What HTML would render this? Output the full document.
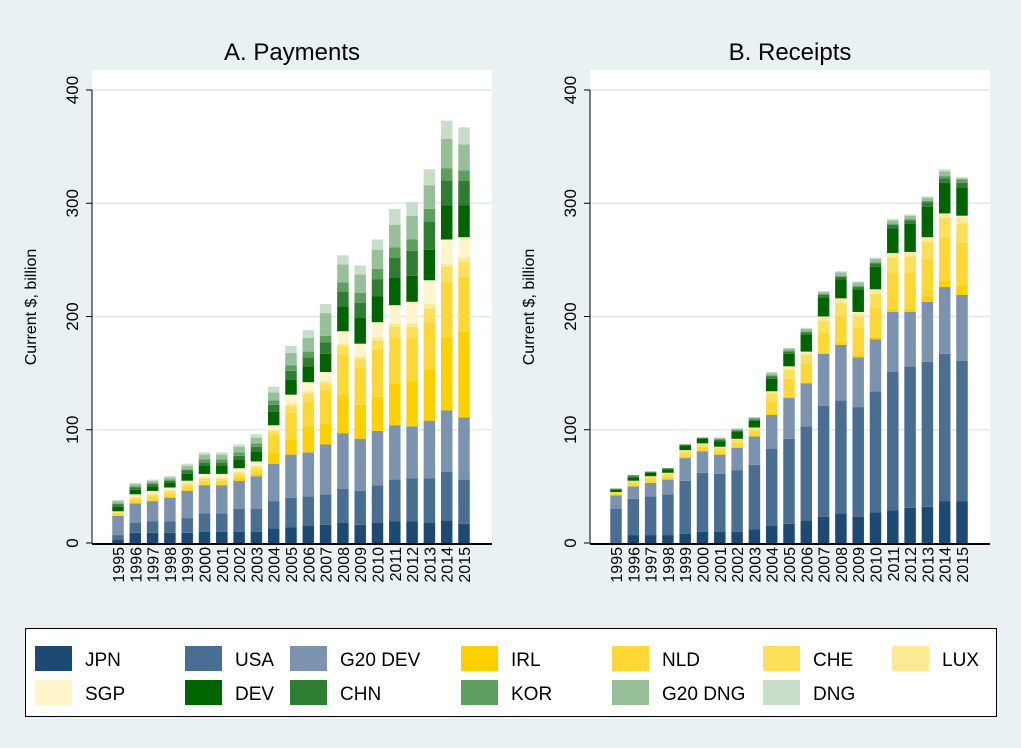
<!DOCTYPE html>
<html><head><meta charset="utf-8"><style>
body{margin:0;background:#eaf1f3;font-family:"Liberation Sans",sans-serif;}
</style></head><body>
<svg id="c" width="1021" height="743" xmlns="http://www.w3.org/2000/svg" font-family="Liberation Sans, sans-serif"></svg>
<script>
const years=["1995","1996","1997","1998","1999","2000","2001","2002","2003","2004","2005","2006","2007","2008","2009","2010","2011","2012","2013","2014","2015"];
const seriesNames=["JPN","USA","G20 DEV","IRL","NLD","CHE","LUX","SGP","DEV","CHN","KOR","G20 DNG","DNG"];
const colors=["#1d4a73","#4a6e92","#7b93ae","#fdd000","#fdd835","#fde05a","#fee996","#fff5cc","#006400","#2e7d32","#5e9e5e","#98c098","#c9dec9"];
const payJPN=[3,9,9,9,9,10,10,10,10,13,14,15,16,18,16,18,19,19,18,20,17];
const payUSA=[4,9,10,10,13,16,16,20,20,24,26,26,27,30,30,33,37,38,39,43,39];
const payG20DEV=[17,17,18,21,24,25,25,25,29,33,38,39,44,49,46,48,48,46,51,54,55];
const payIRL=[0,0,0,1,1,1,1,2,2,10,13,23,18,34,30,30,37,40,45,64,76];
const payNLD=[2,3,4,3,3,3,3,3,3,16,24,23,30,35,33,42,40,38,42,49,48];
const payCHE=[1,2,2,2,2,2,2,2,3,3,6,6,6,8,8,8,10,10,12,14,13];
const payLUX=[1,1,1,1,1,1,1,1,1,1,2,2,2,2,2,3,3,3,4,3,4];
const paySGP=[0,2,2,2,2,3,3,3,4,4,8,8,8,11,11,13,16,19,21,21,18];
const payDEV=[4,4,4,4,6,7,7,8,9,12,13,14,16,22,23,23,24,23,27,30,28];
const payCHN=[2,2,2,2,3,3,3,3,4,6,8,8,10,13,13,15,18,22,25,22,22];
const payKOR=[1,1,1,1,1,3,3,3,3,4,5,5,6,8,9,9,9,10,11,11,9];
const payG20DNG=[2,2,2,2,3,4,4,5,5,7,11,12,20,16,16,17,20,21,21,26,23];
const payDNG=[1,1,1,1,2,2,2,2,3,5,6,7,8,8,8,9,14,12,14,16,15];
const recJPN=[0,7,7,7,8,10,10,10,12,15,17,20,23,26,23,27,29,31,32,37,37];
const recUSA=[30,32,34,36,47,52,51,54,57,68,75,83,98,100,97,107,122,125,128,130,124];
const recG20DEV=[12,11,12,13,20,19,17,20,25,30,36,38,46,49,44,46,53,48,53,59,58];
const recIRL=[0,0,0,0,1,1,1,1,1,1,1,1,1,2,2,2,3,3,5,6,8];
const recNLD=[2,3,4,3,3,3,3,4,4,12,16,16,18,23,24,26,32,32,33,38,38];
const recCHE=[1,2,2,2,2,2,2,2,2,6,8,8,10,12,10,12,13,14,15,17,17];
const recLUX=[0,0,0,1,1,1,1,1,1,2,2,2,3,3,3,3,3,3,3,3,6];
const recSGP=[0,0,0,0,0,0,0,0,0,0,1,1,1,1,1,1,1,1,1,1,1];
const recDEV=[2,3,3,3,4,4,5,6,6,11,11,15,17,17,20,20,22,25,27,27,25];
const recCHN=[1,1,1,1,1,1,1,1,1,2,2,2,2,2,2,3,3,3,4,4,4];
const recKOR=[0,1,0,0,0,0,1,1,1,1,1,1,1,1,1,1,1,1,1,2,3];
const recG20DNG=[0,0,0,0,0,0,1,1,1,2,2,2,2,3,3,3,3,3,3,4,1];
const recDNG=[0,0,0,0,0,0,0,0,0,1,0,1,0,1,1,1,1,1,1,2,1];
const yTicks=[0,100,200,300,400];

const pay=[payJPN,payUSA,payG20DEV,payIRL,payNLD,payCHE,payLUX,paySGP,payDEV,payCHN,payKOR,payG20DNG,payDNG];
const rec=[recJPN,recUSA,recG20DEV,recIRL,recNLD,recCHE,recLUX,recSGP,recDEV,recCHN,recKOR,recG20DNG,recDNG];
const NS="http://www.w3.org/2000/svg";
const svg=document.getElementById('c');
function mk(tag,attrs,parent){const e=document.createElementNS(NS,tag);for(const k in attrs)e.setAttribute(k,attrs[k]);(parent||svg).appendChild(e);return e;}
const y0=543,yScale=453/400;
function Y(v){return y0-v*yScale;}
function panel(px,title,data,key){
  const g=mk('g',{});
  
  
  const bg=mk('rect',{x:px,y:70,width:400,height:475,fill:'#fff'},g);
  
  
  const t=mk('text',{x:px+200,y:60,'text-anchor':'middle','font-size':24,fill:'#000'},g);
  t.textContent=title;
  
  
  yTicks.forEach(v=>{
    if(v>0){const gl=mk('line',{x1:px,x2:px+400,y1:Y(v),y2:Y(v),stroke:'#e6edf0','stroke-width':2},g);
      
      }
    const tk=mk('line',{x1:px-6,x2:px,y1:Y(v),y2:Y(v),stroke:'#000'},g);
    
    
    const tl=mk('text',{x:px-14,y:Y(v),'text-anchor':'middle','font-size':17,transform:`rotate(-90 ${px-14} ${Y(v)})`},g);
    tl.textContent=v;
    
    
  });
  const ax=mk('line',{x1:px,x2:px,y1:Y(400),y2:y0,stroke:'#000'},g);
  
  
  const yt=mk('text',{x:px-56,y:307,'text-anchor':'middle','font-size':16,transform:`rotate(-90 ${px-56} 307)`},g);
  yt.textContent='Current $, billion';
  
  
  const step=17.3, bw=11.5;
  years.forEach((yr,i)=>{
    const cx=px+26+i*step;
    let cum=0;
    data.forEach((s,j)=>{
      const v=s[i];
      if(v>0){const r=mk('rect',{x:cx-bw/2,y:Y(cum+v),width:bw,height:v*yScale,fill:colors[j]},g);
        
        }
      cum+=v;
    });
    const xl=mk('text',{x:cx+6,y:547,'text-anchor':'end','font-size':16,transform:`rotate(-90 ${cx+6} 547)`},g);
    xl.textContent=yr;
    
    
  });
  const bx=mk('line',{x1:px,x2:px+400,y1:y0+1,y2:y0+1,stroke:'#000','stroke-width':2},g);
  
  
}
panel(92,'A. Payments',pay,'payments');
panel(590,'B. Receipts',rec,'receipts');
const lg=mk('g',{});


const lb=mk('rect',{x:25.5,y:628.5,width:971,height:88,fill:'#fff',stroke:'#000'},lg);


const colX=[35,185,290,461,612,763,892];
seriesNames.forEach((n,j)=>{
  const col=j%7,row=Math.floor(j/7);
  const x=colX[col],y=646+row*34;
  const sw=mk('rect',{x:x,y:y,width:37,height:25,fill:colors[j]},lg);
  
  
  const t=mk('text',{x:x+50,y:y+20,'font-size':19},lg);
  t.textContent=n;
  
  
});
</script>
</body></html>
